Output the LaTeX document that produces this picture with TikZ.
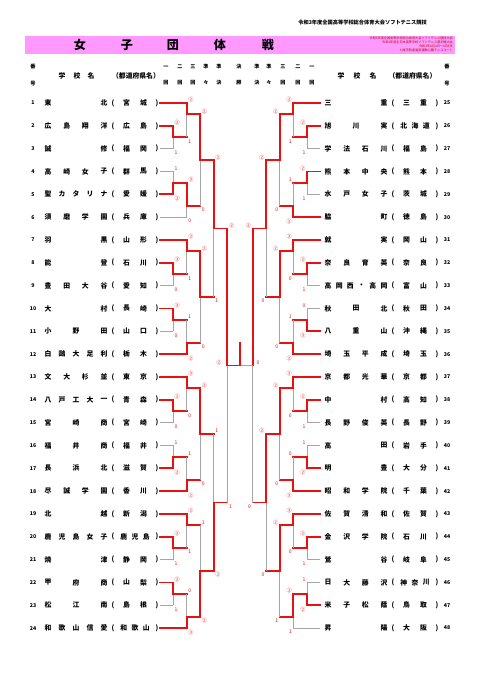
\documentclass[tikz,border=0pt]{standalone}
\usepackage{fontspec}
\setmainfont{Noto Sans CJK JP}
\usetikzlibrary{positioning}
\definecolor{bandpink}{RGB}{255,153,255}
\definecolor{winred}{RGB}{232,16,16}
\definecolor{losegray}{RGB}{165,165,165}
\pgfmathdeclarefunction{ry}{1}{\pgfmathparse{103+(#1-1)*22.83}}
\tikzset{
  win/.style={draw=winred,line width=2.3pt,line cap=rect},
  lose/.style={draw=losegray,line width=0.8pt},
  score/.style={text=winred,font=\fontsize{6.3}{6.3}\selectfont,inner sep=0pt},
  namechar/.style={font=\fontsize{8.5}{8.5}\selectfont\bfseries,inner sep=0pt},
  numtext/.style={font=\fontsize{6.5}{6.5}\selectfont\bfseries,inner sep=0pt},
  roundtext/.style={font=\fontsize{6.3}{6.3}\selectfont\bfseries,inner sep=0pt},
  titlechar/.style={font=\fontsize{15}{15}\selectfont\bfseries,inner sep=0pt},
  tinytext/.style={font=\fontsize{3.9}{4.2}\selectfont,text=winred!75!black,inner sep=0pt,anchor=east},
}
\begin{document}
\begin{tikzpicture}[x=0.4375mm,y=-0.4375mm]
\useasboundingbox (0,0) rectangle (480,679);
% page header
\node[numtext,anchor=east] (pagehead) at (427,22) {令和3年度全国高等学校総合体育大会ソフトテニス競技};
% pink band and title
\fill[bandpink] (25,36) rectangle (455,54);
\foreach \ch/\x [count=\i] in {女/80,子/127,団/173,体/220,戦/268}
  \node[titlechar] (title\i) at (\x,45) {\ch};
\node[tinytext] (band1) at (453,38) {令和3年度全国高等学校総合体育大会ソフトテニス競技大会};
\node[tinytext] (band2) at (453,42.2) {令和3年度全日本高等学校ソフトテニス選手権大会};
\node[tinytext] (band3) at (453,46.4) {令和3年8月2日～8月5日};
\node[tinytext] (band4) at (453,50.6) {七尾市和倉温泉運動公園テニスコート};
% column heads
\foreach \x [count=\i] in {33,447}{
  \node[numtext] (ban\i) at (\x,67) {番};
  \node[numtext] (go\i) at (\x,84) {号};
}
\foreach \ch/\x [count=\i] in {学/62,校/77,名/91,学/341,校/357,名/373}
  \node[namechar] (gk\i) at (\x,76) {\ch};
\node[namechar] (pref1) at (136,76) {（都道府県名）};
\node[namechar] (pref2) at (412.5,76) {（都道府県名）};
\foreach \up/\lo/\x [count=\i] in {一/回/166,二/回/180,三/回/193,準/々/206,準/決/219,決/勝/239,
                                   準/決/257,準/々/269,三/回/283,二/回/298,一/回/312}{
  \node[roundtext] (rh\i) at (\x,67) {\up};
  \node[roundtext] (rl\i) at (\x,83) {\lo};
}
% teams: number / name / prefecture / first match
\foreach \n/\nm/\pf/\f in {
  1/{東,北}/{宮,城}/win, 2/{広,島,翔,洋}/{広,島}/win, 3/{誠,修}/{福,岡}/lose,
  4/{高,崎,女,子}/{群,馬}/lose, 5/{聖,カ,タ,リ,ナ}/{愛,媛}/win, 6/{須,磨,学,園}/{兵,庫}/lose,
  7/{羽,黒}/{山,形}/win, 8/{能,登}/{石,川}/win, 9/{豊,田,大,谷}/{愛,知}/lose,
  10/{大,村}/{長,崎}/win, 11/{小,野,田}/{山,口}/lose, 12/{白,鷗,大,足,利}/{栃,木}/win,
  13/{文,大,杉,並}/{東,京}/win, 14/{八,戸,工,大,一}/{青,森}/win, 15/{宮,崎,商}/{宮,崎}/lose,
  16/{福,井,商}/{福,井}/lose, 17/{長,浜,北}/{滋,賀}/win, 18/{尽,誠,学,園}/{香,川}/win,
  19/{北,越}/{新,潟}/win, 20/{鹿,児,島,女,子}/{鹿,児,島}/win, 21/{焼,津}/{静,岡}/lose,
  22/{甲,府,商}/{山,梨}/win, 23/{松,江,南}/{島,根}/lose, 24/{和,歌,山,信,愛}/{和,歌,山}/win,
  25/{三,重}/{三,重}/win, 26/{旭,川,実}/{北,海,道}/win, 27/{学,法,石,川}/{福,島}/lose,
  28/{熊,本,中,央}/{熊,本}/win, 29/{水,戸,女,子}/{茨,城}/lose, 30/{脇,町}/{徳,島}/win,
  31/{就,実}/{岡,山}/win, 32/{奈,良,育,英}/{奈,良}/win, 33/{高,岡,西,・,高,岡}/{富,山}/lose,
  34/{秋,田,北}/{秋,田}/lose, 35/{八,重,山}/{沖,縄}/win, 36/{埼,玉,平,成}/{埼,玉}/win,
  37/{京,都,光,華}/{京,都}/win, 38/{中,村}/{高,知}/win, 39/{長,野,俊,英}/{長,野}/lose,
  40/{高,田}/{岩,手}/lose, 41/{明,豊}/{大,分}/win, 42/{昭,和,学,院}/{千,葉}/win,
  43/{佐,賀,清,和}/{佐,賀}/win, 44/{金,沢,学,院}/{石,川}/win, 45/{鶯,谷}/{岐,阜}/lose,
  46/{日,大,藤,沢}/{神,奈,川}/lose, 47/{米,子,松,蔭}/{鳥,取}/win, 48/{昇,陽}/{大,阪}/lose}{
  \pgfmathtruncatemacro\r{\n>24 ? \n-24 : \n}
  \pgfmathtruncatemacro\sd{\n>24 ? -1 : 1}
  \pgfmathsetmacro\dx{\n>24 ? 280 : 0}
  \pgfmathsetmacro\xno{\n>24 ? 447 : 33}
  \pgfmathtruncatemacro\m{mod(\r-1,6)}
  \pgfmathtruncatemacro\fl{(\m==0 || \m==5) ? 2 : 1}
  \pgfmathsetmacro\y{ry(\r)}
  \node[numtext] (no\n) at (\xno,\y) {\n};
  \foreach \ch [count=\k] in \nm {\xdef\nc{\k}}
  \foreach \ch [count=\k] in \nm
    \node[namechar] (nm\n-\k) at ({\dx+48+(\k-1)*56/(\nc-1)},\y) {\ch};
  \foreach \ch [count=\k] in \pf {\xdef\pc{\k}}
  \foreach \ch [count=\k] in \pf
    \node[namechar] (pf\n-\k) at ({\dx+118+(\k-0.5)*34/\pc},\y) {\ch};
  \node[namechar] (lp\n) at (\dx+113,\y) {(};
  \node[namechar] (rp\n) at (\dx+157,\y) {)};
  % line into the first match
  \coordinate (t\n) at ({240-\sd*80},\y);
  \draw[\f] (t\n) -- ({240+\sd*(173+(\fl-1)*13.6-240)},\y);
}
% matches: side / round / top row / bottom row / out row / winner / scores
\foreach \sd/\lv/\tp/\bt/\ex/\wn/\stp/\sbt [count=\i] in {
  1/1/2/3/2.5/t/②/1, 1/2/1/2.5/1.5/t/②/1, 1/1/4/5/4.5/b/1/②, 1/2/4.5/6/5.5/t/③/0, 1/3/1.5/5.5/3.5/t/②/0,
  1/1/8/9/8.5/t/③/0, 1/2/7/8.5/7.5/t/②/1, 1/1/10/11/10.5/t/③/0, 1/2/10.5/12/11.5/b/1/②, 1/3/7.5/11.5/9.5/t/②/0,
  1/4/3.5/9.5/6.5/t/②/1,
  1/1/14/15/14.5/t/②/0, 1/2/13/14.5/13.5/t/③/0, 1/1/16/17/16.5/b/1/②, 1/2/16.5/18/17.5/b/1/②, 1/3/13.5/17.5/15.5/t/②/0,
  1/1/20/21/20.5/t/②/1, 1/2/19/20.5/19.5/t/②/1, 1/1/22/23/22.5/t/②/1, 1/2/22.5/24/23.5/b/0/③, 1/3/19.5/23.5/21.5/b/1/②,
  1/4/15.5/21.5/18.5/b/1/②,
  1/5/6.5/18.5/12.5/t/②/1,
  -1/1/2/3/2.5/t/②/1, -1/2/1/2.5/1.5/t/②/1, -1/1/4/5/4.5/t/②/1, -1/2/4.5/6/5.5/b/1/②, -1/3/1.5/5.5/3.5/t/②/0,
  -1/1/8/9/8.5/t/②/1, -1/2/7/8.5/7.5/t/③/0, -1/1/10/11/10.5/b/0/③, -1/2/10.5/12/11.5/b/1/②, -1/3/7.5/11.5/9.5/t/②/0,
  -1/4/3.5/9.5/6.5/t/②/0,
  -1/1/14/15/14.5/t/②/1, -1/2/13/14.5/13.5/t/③/0, -1/1/16/17/16.5/b/1/②, -1/2/16.5/18/17.5/b/0/③, -1/3/13.5/17.5/15.5/t/②/0,
  -1/1/20/21/20.5/t/②/1, -1/2/19/20.5/19.5/t/③/0, -1/1/22/23/22.5/b/1/②, -1/2/22.5/24/23.5/t/②/1, -1/3/19.5/23.5/21.5/t/②/1,
  -1/4/15.5/21.5/18.5/t/②/0,
  -1/5/6.5/18.5/12.5/t/②/0}{
  \pgfmathsetmacro\X{240+\sd*(173+(\lv-1)*13.6-240)}
  \pgfmathsetmacro\Xn{\lv==5 ? \X : 240+\sd*(173+\lv*13.6-240)}
  \if\wn t\edef\wr{\tp}\edef\lr{\bt}\else\edef\wr{\bt}\edef\lr{\tp}\fi
  \ifnum\sd=1 \def\anc{west}\else\def\anc{east}\fi
  \draw[lose] (\X,{ry(\lr)}) -- (\X,{ry(\ex)});
  \draw[win] (\X,{ry(\wr)}) -- (\X,{ry(\ex)}) -- (\Xn,{ry(\ex)});
  \node[score,anchor=\anc] (st\i) at ({\X+\sd*1.5},{ry(\tp)-3}) {\stp};
  \node[score,anchor=\anc] (sb\i) at ({\X+\sd*1.5},{ry(\bt)+4}) {\sbt};
}
% final
\coordinate (finL) at (227.4,{ry(12.5)});
\coordinate (finR) at (252.6,{ry(12.5)});
\coordinate (finM) at (240,{ry(12.5)});
\coordinate (champ) at (240,343);
\draw[lose] (finR) -- (finM);
\draw[win] (finL) -- (finM) -- (champ);
\node[score,anchor=east] (finsL) at (221.5,363) {②};
\node[score,anchor=west] (finsR) at (256.5,363) {0};
\end{tikzpicture}
\end{document}
